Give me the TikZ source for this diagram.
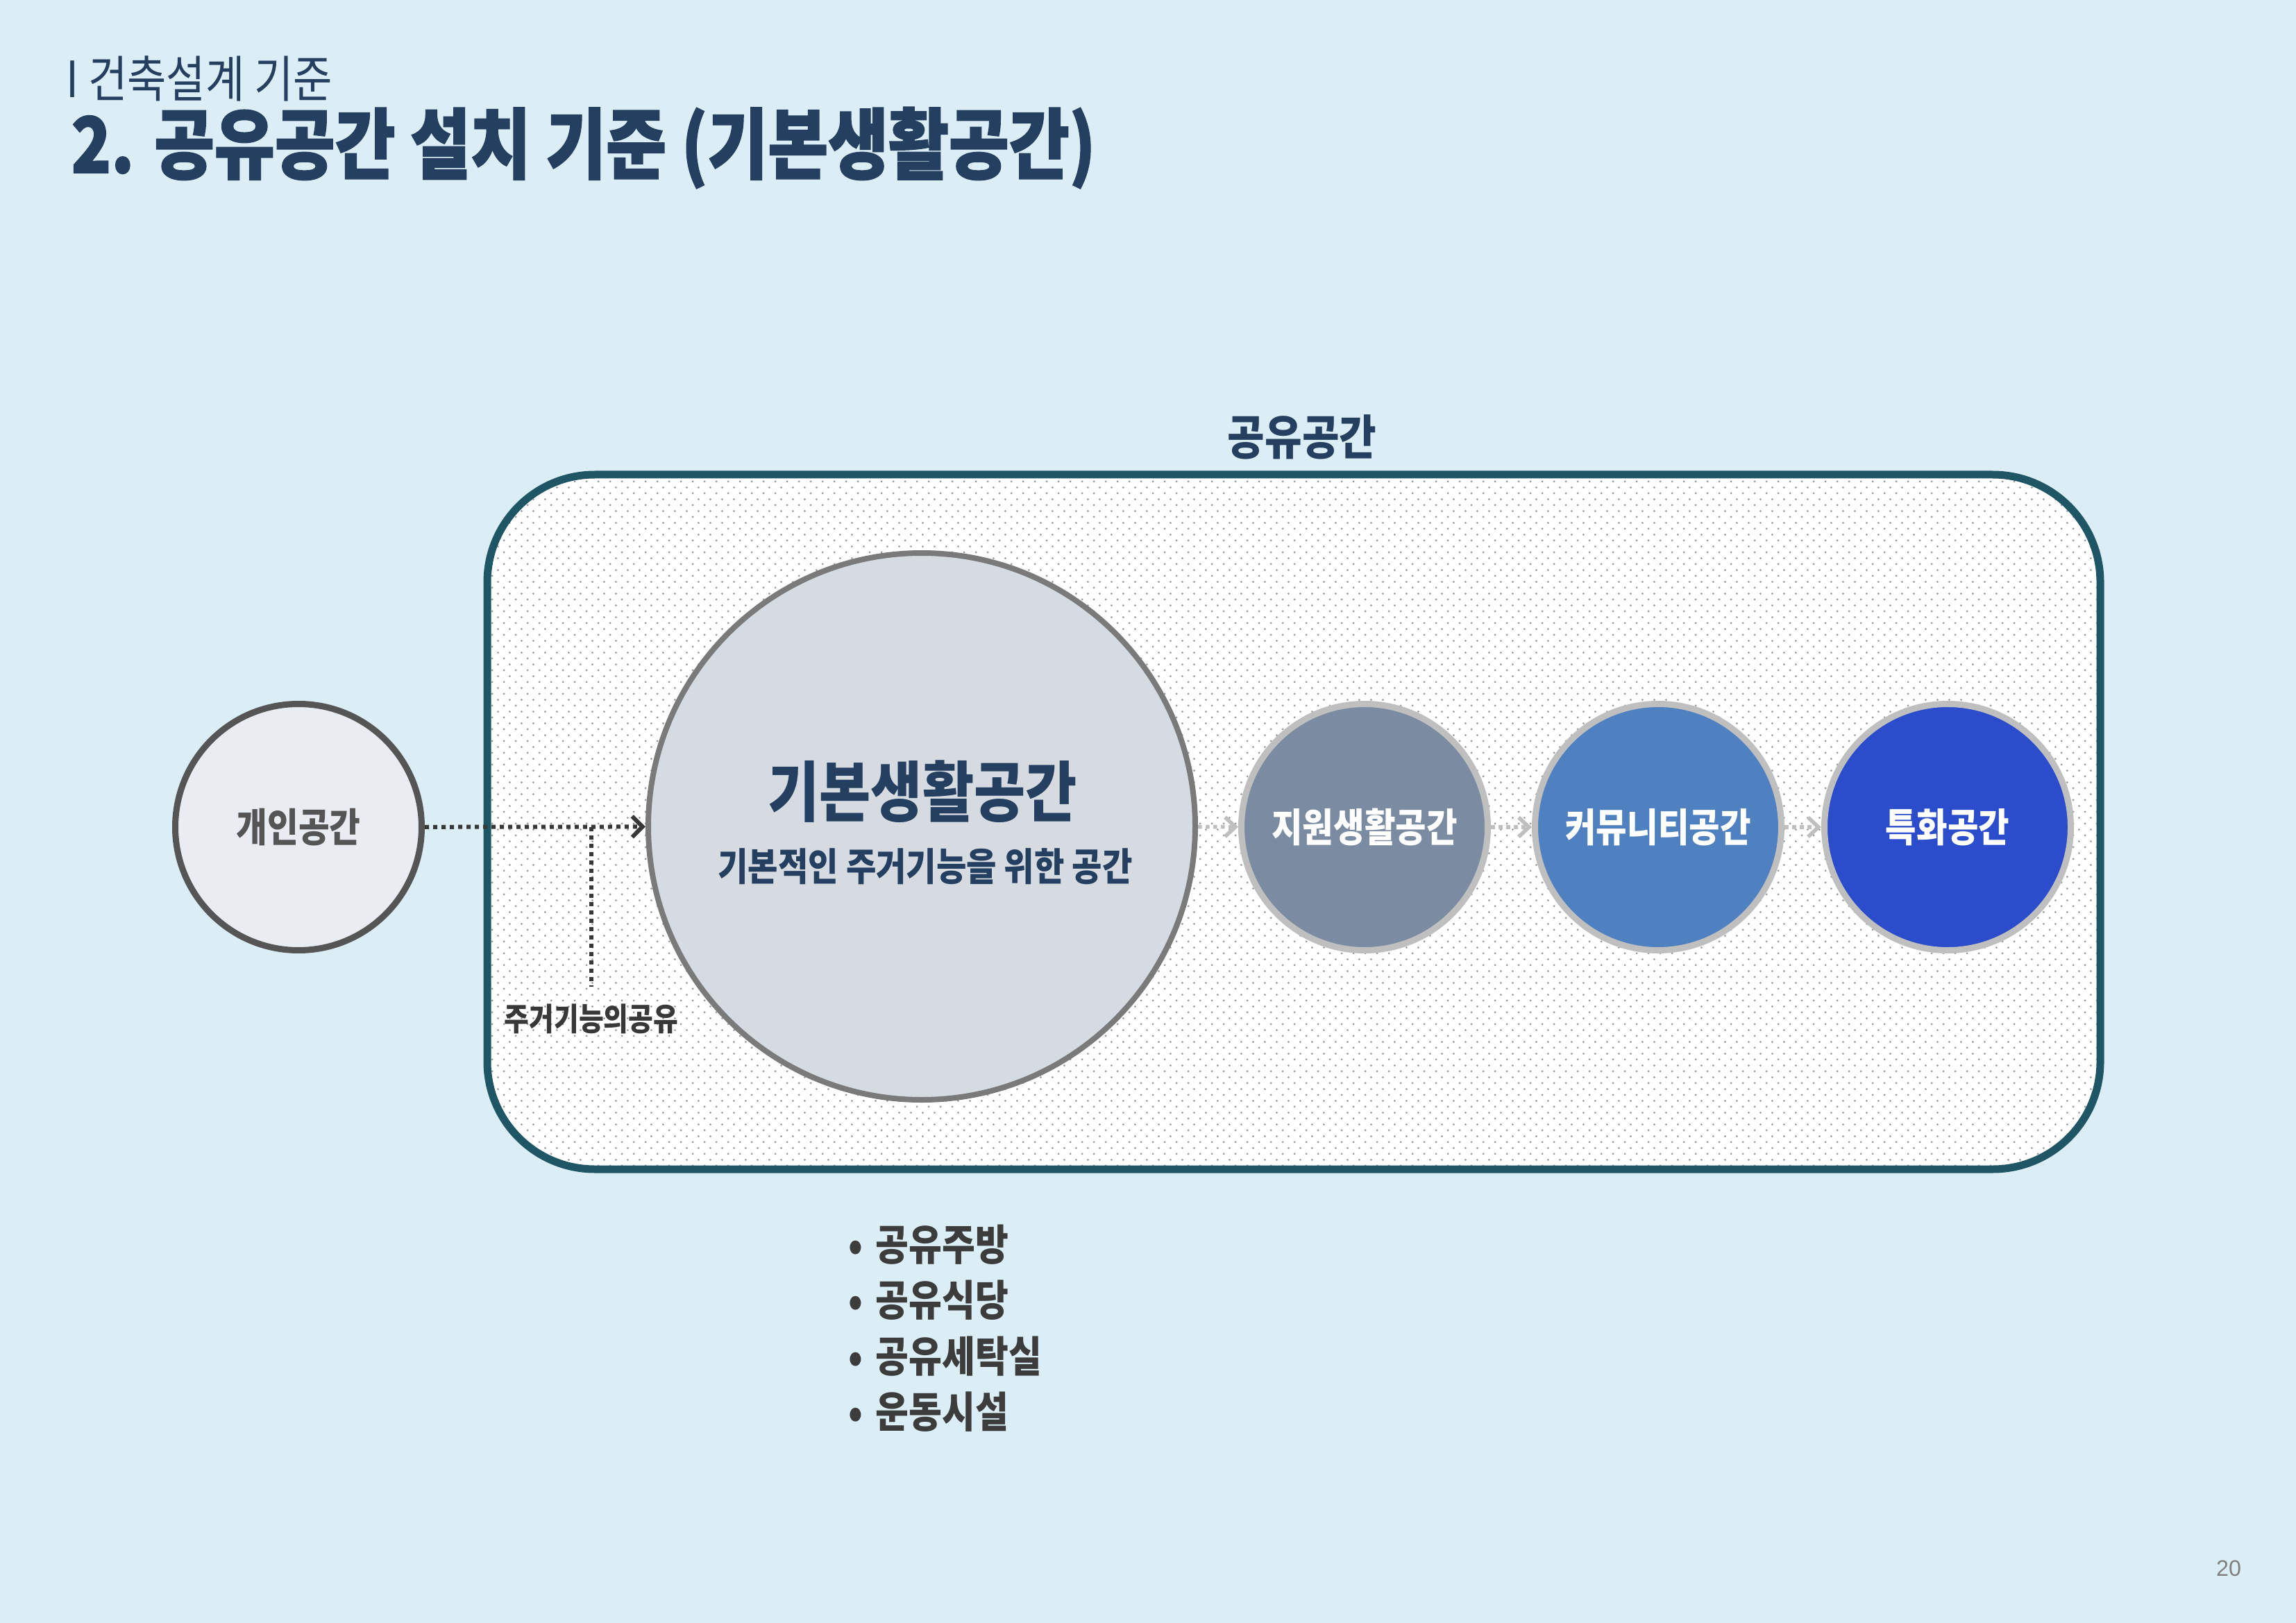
\documentclass[tikz,border=0pt]{standalone}
\usepackage{fontspec}
\setmainfont{Noto Sans CJK KR}[FakeStretch=0.85]
\newfontfamily\heavyfont{Noto Sans CJK KR}[FakeStretch=0.85, BoldFeatures={FakeBold=1.6}]
\newfontfamily\numfont{Liberation Sans}
\usepackage{xcolor}
\usepackage{tikz}
\usetikzlibrary{arrows.meta, positioning, patterns.meta}
\definecolor{pagebg}{HTML}{DCEEF5}
\definecolor{titlenavy}{HTML}{243F60}
\definecolor{boxteal}{HTML}{1F5666}
\definecolor{dotgray}{HTML}{959EA4}
\definecolor{megray}{HTML}{555555}
\definecolor{mefill}{HTML}{E9ECF0}
\definecolor{basefill}{HTML}{D5DBE0}
\definecolor{basering}{HTML}{7A7A7A}
\definecolor{ringgray}{HTML}{BFBFBF}
\definecolor{supcol}{HTML}{7B8CA2}
\definecolor{commcol}{HTML}{4F80BF}
\definecolor{speccol}{HTML}{2B4DCB}
\definecolor{flowdark}{HTML}{383838}
\definecolor{listgray}{HTML}{3C3C3C}

\tikzdeclarepattern{
  name=sharedots,
  type=uncolored,
  bounding box={(0,0) and (0.168,0.168)},
  tile size={(0.168,0.168)},
  code={
    \fill (0.042,0.042) circle (0.016);
    \fill (0.126,0.126) circle (0.016);
  }
}

\begin{document}
\begin{tikzpicture}[
  every node/.style={inner sep=0pt},
  sz/.style={font=\bfseries\fontsize{#1}{#1}\selectfont},
  roombox/.style={draw=boxteal, line width=0.11cm, rounded corners=1.55cm,
                  preaction={fill=white}, pattern=sharedots, pattern color=dotgray,
                  minimum width=23.24cm, minimum height=10.01cm},
  mecirc/.style={circle, draw=megray, fill=mefill, line width=0.09cm, minimum size=3.55cm,
                 text=megray, sz=16.3},
  basecirc/.style={circle, draw=basering, fill=basefill, line width=0.08cm, minimum size=7.88cm},
  smallcirc/.style={circle, draw=ringgray, fill=#1, line width=0.09cm, minimum size=3.55cm,
                    text=white, sz=16.2},
  mainflow/.style={line width=0.06cm, color=flowdark, dash pattern=on 0.06cm off 0.06cm,
                   -{Straight Barb[length=0.15cm, width=0.3cm]}},
  subflow/.style={line width=0.055cm, color=ringgray, dash pattern=on 0.055cm off 0.055cm,
                  -{Straight Barb[length=0.15cm, width=0.28cm]}},
]

% page
\useasboundingbox (0,0) rectangle (33.08,-23.39);
\fill[pagebg] (0,0) rectangle (33.08,-23.39);

% heading
\node[anchor=west, text=titlenavy, font=\fontsize{20.5}{20.5}\selectfont] (subT) at (0.95,-1.13)
  {I 건축설계 기준};
\node[anchor=west, text=titlenavy, font=\heavyfont\bfseries\fontsize{31.6}{31.6}\selectfont]
  (mainT) at (1.02,-2.13) {2. 공유공간 설치 기준 (기본생활공간)};

% shared space frame
\node[roombox] (shareBox) at (18.64,-11.845) {};
\node[text=titlenavy, sz=19.5] (shareT) at (18.76,-6.30) {공유공간};

% rooms
\node[mecirc] (me) at (4.30,-11.92) {개인공간};
\node[basecirc] (base) at (13.28,-11.91) {};
\node[text=titlenavy, sz=27] (baseT) at (13.29,-11.41) {기본생활공간};
\node[text=titlenavy, sz=15.8] (baseS) at (13.33,-12.49) {기본적인 주거기능을 위한 공간};
\node[smallcirc=supcol] (sup) at (19.66,-11.92) {지원생활공간};
\node[smallcirc=commcol] (comm) at (23.89,-11.92) {커뮤니티공간};
\node[smallcirc=speccol] (spec) at (28.06,-11.92) {특화공간};

% sharing of housing functions
\node[text=flowdark, sz=13] (shareLbl) at (8.52,-14.68) {주거기능의공유};
\coordinate (jn) at (8.52,-11.92);

% facility list
\node[anchor=north west, align=left, text=listgray, font=\bfseries\fontsize{17.4}{22.9}\selectfont]
  (facil) at (12.22,-17.64)
  {•\hspace{0.3em}공유주방\\ •\hspace{0.3em}공유식당\\ •\hspace{0.3em}공유세탁실\\ •\hspace{0.3em}운동시설};

% page number
\node[text=gray, font=\numfont\fontsize{9.2}{10}\selectfont] (pgNo) at (32.11,-22.60) {20};

% Arrows
\draw[mainflow] (me) -- (base);
\draw[mainflow, -] (jn) -- ([yshift=0.24cm]shareLbl.north);
\foreach \a/\b in {base/sup, sup/comm, comm/spec} { \draw[subflow] (\a) -- (\b); }

\end{tikzpicture}
\end{document}
